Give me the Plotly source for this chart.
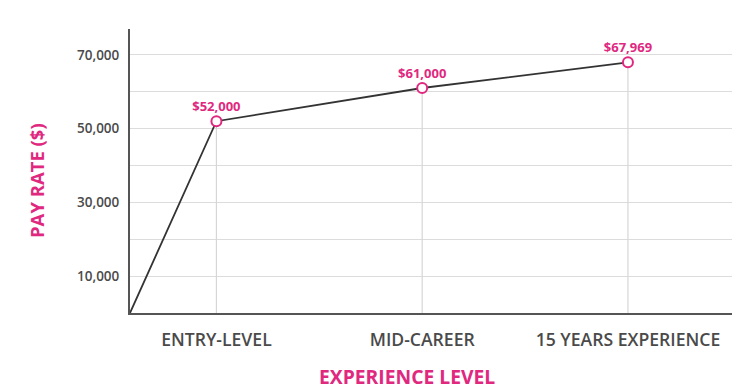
import plotly.graph_objects as go

categories = ["ENTRY-LEVEL", "MID-CAREER", "15 YEARS EXPERIENCE"]
pay = [52000, 61000, 67969]
pay_labels = ["$52,000", "$61,000", "$67,969"]
y_ticks = [10000, 20000, 30000, 40000, 50000, 60000, 70000]
y_tick_text = ["10,000", "", "30,000", "", "50,000", "", "70,000"]

PINK = "#e0287f"
GREY = "#4a4a4a"
x_start = -0.42
x_end = 2.53
xs = list(range(len(categories)))

fig = go.Figure()
# drop lines
fig.add_trace(go.Scatter(
    x=xs, y=pay, mode="markers", marker=dict(size=1, color="rgba(0,0,0,0)"),
    error_y=dict(type="data", symmetric=False, array=[0]*len(pay), arrayminus=pay,
                 color="#d6d6d6", thickness=1.2, width=0),
    hoverinfo="skip", showlegend=False))
# main line from origin
fig.add_trace(go.Scatter(
    x=[x_start] + xs, y=[0] + pay, mode="lines",
    line=dict(color="#333333", width=1.8), showlegend=False))
fig.add_trace(go.Scatter(
    x=xs, y=pay, mode="markers+text", text=pay_labels, textposition="top center",
    textfont=dict(family="Open Sans", size=13, color=PINK, weight=700),
    marker=dict(symbol="circle", size=10, color="white", line=dict(color=PINK, width=2)),
    cliponaxis=False, showlegend=False))

# page body has an 8px default margin: the figure is sized to fit the 740x391 window
fig.update_layout(
    width=732, height=383,
    margin=dict(l=122, r=3, t=21, b=78, autoexpand=False),
    paper_bgcolor="white", plot_bgcolor="white",
    font=dict(family="Open Sans", color=GREY),
    xaxis=dict(range=[x_start, x_end], tickvals=xs, ticktext=categories, automargin=False,
               showgrid=False, zeroline=False, showline=True, linecolor="#555555", linewidth=2,
               ticks="", ticklabelstandoff=10,
               tickfont=dict(family="Open Sans", size=17.6, color=GREY, weight=600)),
    yaxis=dict(range=[0, 77000], tickvals=y_ticks, ticktext=y_tick_text, automargin=False,
               showgrid=True, gridcolor="#dcdcdc", gridwidth=1.2, zeroline=False,
               showline=True, linecolor="#555555", linewidth=2, ticks="", ticklabelstandoff=6,
               tickfont=dict(family="Open Sans", size=13.5, color=GREY, weight=600)),
    annotations=[
        dict(text="EXPERIENCE LEVEL", xref="paper", yref="paper", x=0.456, y=-0.222,
             xanchor="center", yanchor="middle", showarrow=False,
             font=dict(family="Open Sans", size=19.3, color=PINK, weight=700)),
        dict(text="PAY RATE ($)", xref="paper", yref="paper", x=-0.155, y=0.468,
             xanchor="center", yanchor="middle", showarrow=False, textangle=-90,
             font=dict(family="Open Sans", size=18.5, color=PINK, weight=700)),
    ],
)

fig.write_html("out.html")
